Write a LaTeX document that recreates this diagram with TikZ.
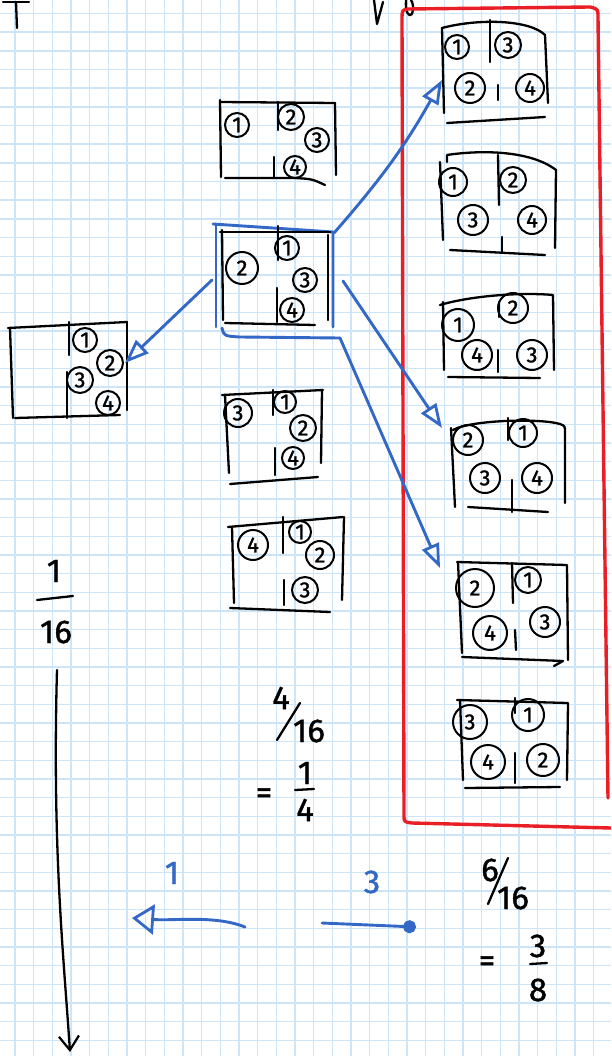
\documentclass[tikz,border=0pt]{standalone}
\usepackage{fontspec}
\setmainfont{Fira Sans}
\newfontfamily\penfont{Fira Sans}[FakeBold=1.2]
\usetikzlibrary{arrows.meta}
\definecolor{gridblue}{RGB}{204,229,248}
\definecolor{penblue}{RGB}{52,104,198}
\definecolor{penred}{RGB}{234,30,38}
% a circled number: name, position, diameter, label
\newcommand\numball[4]{\node[ball,minimum size=#3] (#1) at #2 {#4};}
\begin{document}
\begin{tikzpicture}[x=1pt,y=-1pt,
  gridline/.style={draw=gridblue,line width=1.4pt},
  ink/.style={draw=black,line width=2.3pt,line cap=round,line join=round},
  blueink/.style={draw=penblue,line width=2.9pt,line cap=round,line join=round},
  redink/.style={draw=penred,line width=3.4pt,line cap=round,line join=round},
  ball/.style={circle,draw=black,line width=2pt,inner sep=0pt,font=\penfont\fontsize{22}{22}\selectfont},
  hand/.style={inner sep=0pt,font=\penfont\fontsize{33}{33}\selectfont},
  bluehand/.style={hand,text=penblue},
  openhead/.style={-{Triangle[open,length=24pt,width=18pt,line width=2.8pt]}}
]
\useasboundingbox (0,0) rectangle (611,1056);
\clip (0,0) rectangle (611,1056);
\fill[white] (0,0) rectangle (611,1056);

% squared paper
\foreach \i in {0,...,32} {\draw[gridline] ({15+18.67*\i},0) -- ({15+18.67*\i},1056);}
\foreach \j in {0,...,56} {\draw[gridline] (0,{13.5+18.67*\j}) -- (611,{13.5+18.67*\j});}

% scribbles cut off at the top edge
\draw[ink] (3,2) -- (29,2);
\draw[ink] (16,2) -- (17,28);
\draw[ink] (374,0) -- (377,24) -- (383,2);
\draw[ink] (406,0) .. controls (405,12) and (409,18) .. (412,14) .. controls (414,8) and (413,3) .. (411,0);

% ---- box A: 1 | 2 3 4
\draw[ink] (220,102) -- (335,103);
\draw[ink] (220,100) -- (221,177);
\draw[ink] (335,103) -- (336,175);
\draw[ink] (225,178) -- (295,178) .. controls (312,179) .. (325,185);
\draw[ink] (278,102) -- (278,130);
\draw[ink] (274,157) -- (274,178);
\numball{a1}{(237,125)}{24pt}{1}
\numball{a2}{(291,117)}{26pt}{2}
\numball{a3}{(317,140)}{24pt}{3}
\numball{a4}{(295,167)}{22pt}{4}

% ---- box B (marked in blue): 2 | 1 3 4
\draw[blueink] (213,224) -- (333,232) -- (333,327);
\draw[blueink] (216,224) -- (216,327);
\draw[blueink] (222,328) .. controls (224,336) .. (240,337) -- (340,338);
\draw[ink] (220,232) -- (330,232);
\draw[ink] (222,230) -- (223,320);
\draw[ink] (328,235) -- (328,320);
\draw[ink] (225,323) -- (315,325);
\draw[ink] (278,226) -- (278,260);
\draw[ink] (277,288) -- (277,322);
\numball{b2}{(242,268)}{32pt}{2}
\numball{b1}{(287,248)}{24pt}{1}
\numball{b3}{(305,280)}{24pt}{3}
\numball{b4}{(292,310)}{24pt}{4}

% ---- box C (left): 1 2 | 3 4
\draw[ink] (8,328) -- (127,322);
\draw[ink] (10,328) -- (13,418);
\draw[ink] (127,322) -- (127,410);
\draw[ink] (15,418) -- (120,415);
\draw[ink] (69,322) -- (69,355);
\draw[ink] (67,372) -- (67,418);
\numball{c1}{(85,340)}{24pt}{1}
\numball{c2}{(110,363)}{26pt}{2}
\numball{c3}{(80,380)}{26pt}{3}
\numball{c4}{(108,403)}{24pt}{4}

% ---- box D: 3 | 1 2 4
\draw[ink] (222,395) -- (323,390);
\draw[ink] (225,395) -- (229,473);
\draw[ink] (322,390) -- (321,463);
\draw[ink] (230,484) -- (318,477);
\draw[ink] (273,390) -- (273,415);
\draw[ink] (275,448) -- (275,475);
\numball{d3}{(238,413)}{28pt}{3}
\numball{d1}{(285,402)}{22pt}{1}
\numball{d2}{(303,428)}{26pt}{2}
\numball{d4}{(293,458)}{22pt}{4}

% ---- box E: 4 | 1 2 3
\draw[ink] (228,527) -- (343,517);
\draw[ink] (232,527) -- (234,603);
\draw[ink] (344,517) -- (342,600);
\draw[ink] (230,608) -- (330,612);
\draw[ink] (283,517) -- (283,553);
\draw[ink] (284,580) -- (284,605);
\numball{e4}{(253,545)}{30pt}{4}
\numball{e1}{(300,532)}{22pt}{1}
\numball{e2}{(320,555)}{28pt}{2}
\numball{e3}{(305,590)}{26pt}{3}

% ---- column of six boxes
\draw[ink] (442,28) .. controls (480,18) and (530,20) .. (545,35) -- (548,103);
\draw[ink] (442,28) -- (444,113);
\draw[ink] (447,123) -- (545,117);
\draw[ink] (490,20) -- (490,62);
\draw[ink] (498,85) -- (498,100);
\numball{ra1}{(457,47)}{24pt}{1}
\numball{ra3}{(508,45)}{26pt}{3}
\numball{ra2}{(470,88)}{30pt}{2}
\numball{ra4}{(530,88)}{28pt}{4}

\draw[ink] (447,162) -- (447,155) .. controls (480,150) and (530,150) .. (556,170) -- (555,248);
\draw[ink] (440,162) -- (443,240);
\draw[ink] (450,250) -- (545,255);
\draw[ink] (498,155) -- (499,205);
\draw[ink] (502,237) -- (502,252);
\numball{rb1}{(453,182)}{28pt}{1}
\numball{rb2}{(513,180)}{26pt}{2}
\numball{rb3}{(473,220)}{30pt}{3}
\numball{rb4}{(532,220)}{28pt}{4}

\draw[ink] (440,305) .. controls (470,296) and (520,292) .. (553,295) -- (554,370);
\draw[ink] (443,302) -- (444,370);
\draw[ink] (448,377) -- (540,378);
\draw[ink] (499,302) -- (499,317);
\draw[ink] (498,350) -- (498,372);
\numball{rc1}{(458,325)}{32pt}{1}
\numball{rc2}{(513,308)}{30pt}{2}
\numball{rc4}{(477,355)}{30pt}{4}
\numball{rc3}{(532,355)}{30pt}{3}

\draw[ink] (453,430) .. controls (470,420) and (540,418) .. (560,424) .. controls (565,426) .. (565,433) -- (565,503);
\draw[ink] (451,428) -- (455,507);
\draw[ink] (468,507) -- (548,512);
\draw[ink] (508,418) -- (508,440);
\draw[ink] (512,480) -- (512,512);
\numball{rd2}{(468,440)}{30pt}{2}
\numball{rd1}{(523,433)}{28pt}{1}
\numball{rd3}{(485,478)}{30pt}{3}
\numball{rd4}{(537,478)}{30pt}{4}

\draw[ink] (457,562) -- (567,565) -- (568,660);
\draw[ink] (458,562) -- (462,653);
\draw[ink] (462,657) -- (563,661) -- (554,666);
\draw[ink] (512,563) -- (513,603);
\draw[ink] (515,630) -- (516,650);
\numball{re2}{(475,588)}{38pt}{2}
\numball{re1}{(528,580)}{26pt}{1}
\numball{re4}{(490,633)}{34pt}{4}
\numball{re3}{(545,622)}{30pt}{3}

\draw[ink] (457,700) -- (568,703) -- (567,780);
\draw[ink] (460,700) -- (463,780);
\draw[ink] (465,788) -- (560,787);
\draw[ink] (515,698) -- (515,713);
\draw[ink] (515,753) -- (515,783);
\numball{rf3}{(470,722)}{34pt}{3}
\numball{rf1}{(528,715)}{32pt}{1}
\numball{rf4}{(488,762)}{34pt}{4}
\numball{rf2}{(543,760)}{32pt}{2}

% red frame round the column
\draw[redink] (608,798) -- (598,18) .. controls (598,9) .. (590,7) -- (408,9)
  .. controls (402,10) .. (402,20) -- (404,815) .. controls (404,822) .. (412,823) -- (611,828);

% arrows out of box B
\coordinate (bNE) at (334,233);
\coordinate (bW)  at (212,280);
\coordinate (bE)  at (343,281);
\coordinate (bSE) at (340,338);
\coordinate (r1W) at (442,80);
\coordinate (r4W) at (442,428);
\coordinate (r5W) at (440,568);
\coordinate (cE)  at (125,363);
\draw[blueink,openhead] (bNE) to[bend right=6] (r1W);
\draw[blueink,openhead] (bE) -- (r4W);
\draw[blueink,openhead] (bSE) -- (r5W);
\draw[blueink,openhead] (bW) -- (cE);

% 1/16 and the long arrow below it
\node[hand] (n1) at (54,571) {1};
\coordinate (f1a) at (37,600);
\coordinate (f1b) at (73,596);
\draw[ink] (f1a) -- (f1b);
\node[hand] (n16) at (56,632) {16};
\coordinate (down0) at (57,670);
\coordinate (down1) at (70,1052);
\draw[ink,-{Straight Barb[length=14pt,width=20pt,line width=2.2pt]}] (down0) .. controls (52,850) and (64,960) .. (down1);

% 4/16 = 1/4
\node[hand] (q4) at (281,698) {4};
\coordinate (qs0) at (277,740);
\coordinate (qs1) at (300,703);
\draw[ink] (qs0) -- (qs1);
\node[hand] (q16) at (309,731) {16};
\node[hand] (qeq) at (264,796) {=};
\node[hand] (q1) at (305,773) {1};
\coordinate (qb0) at (295,790);
\coordinate (qb1) at (314,789);
\draw[ink] (qb0) -- (qb1);
\node[hand] (q4b) at (305,810) {4};

% 1 to the left, 3 to the right
\coordinate (la0) at (245,927);
\coordinate (la1) at (132,918);
\draw[blueink,-{Triangle[open,length=22pt,width=30pt,line width=2.8pt]}] (la0) .. controls (215,915) and (175,921) .. (la1);
\node[bluehand] (l1) at (172,873) {1};
\coordinate (ra0) at (322,923);
\coordinate (ra1) at (416,927);
\draw[blueink,-{Circle[length=13pt]}] (ra0) -- (ra1);
\node[bluehand] (l3) at (372,882) {3};

% 6/16 = 3/8
\node[hand] (s6) at (490,870) {6};
\coordinate (ss0) at (488,904);
\coordinate (ss1) at (508,858);
\draw[ink] (ss0) -- (ss1);
\node[hand] (s16) at (513,898) {16};
\node[hand] (seq) at (487,964) {=};
\node[hand] (s3) at (538,946) {3};
\coordinate (sb0) at (530,964);
\coordinate (sb1) at (547,963);
\draw[ink] (sb0) -- (sb1);
\node[hand] (s8) at (538,990) {8};
\end{tikzpicture}
\end{document}
